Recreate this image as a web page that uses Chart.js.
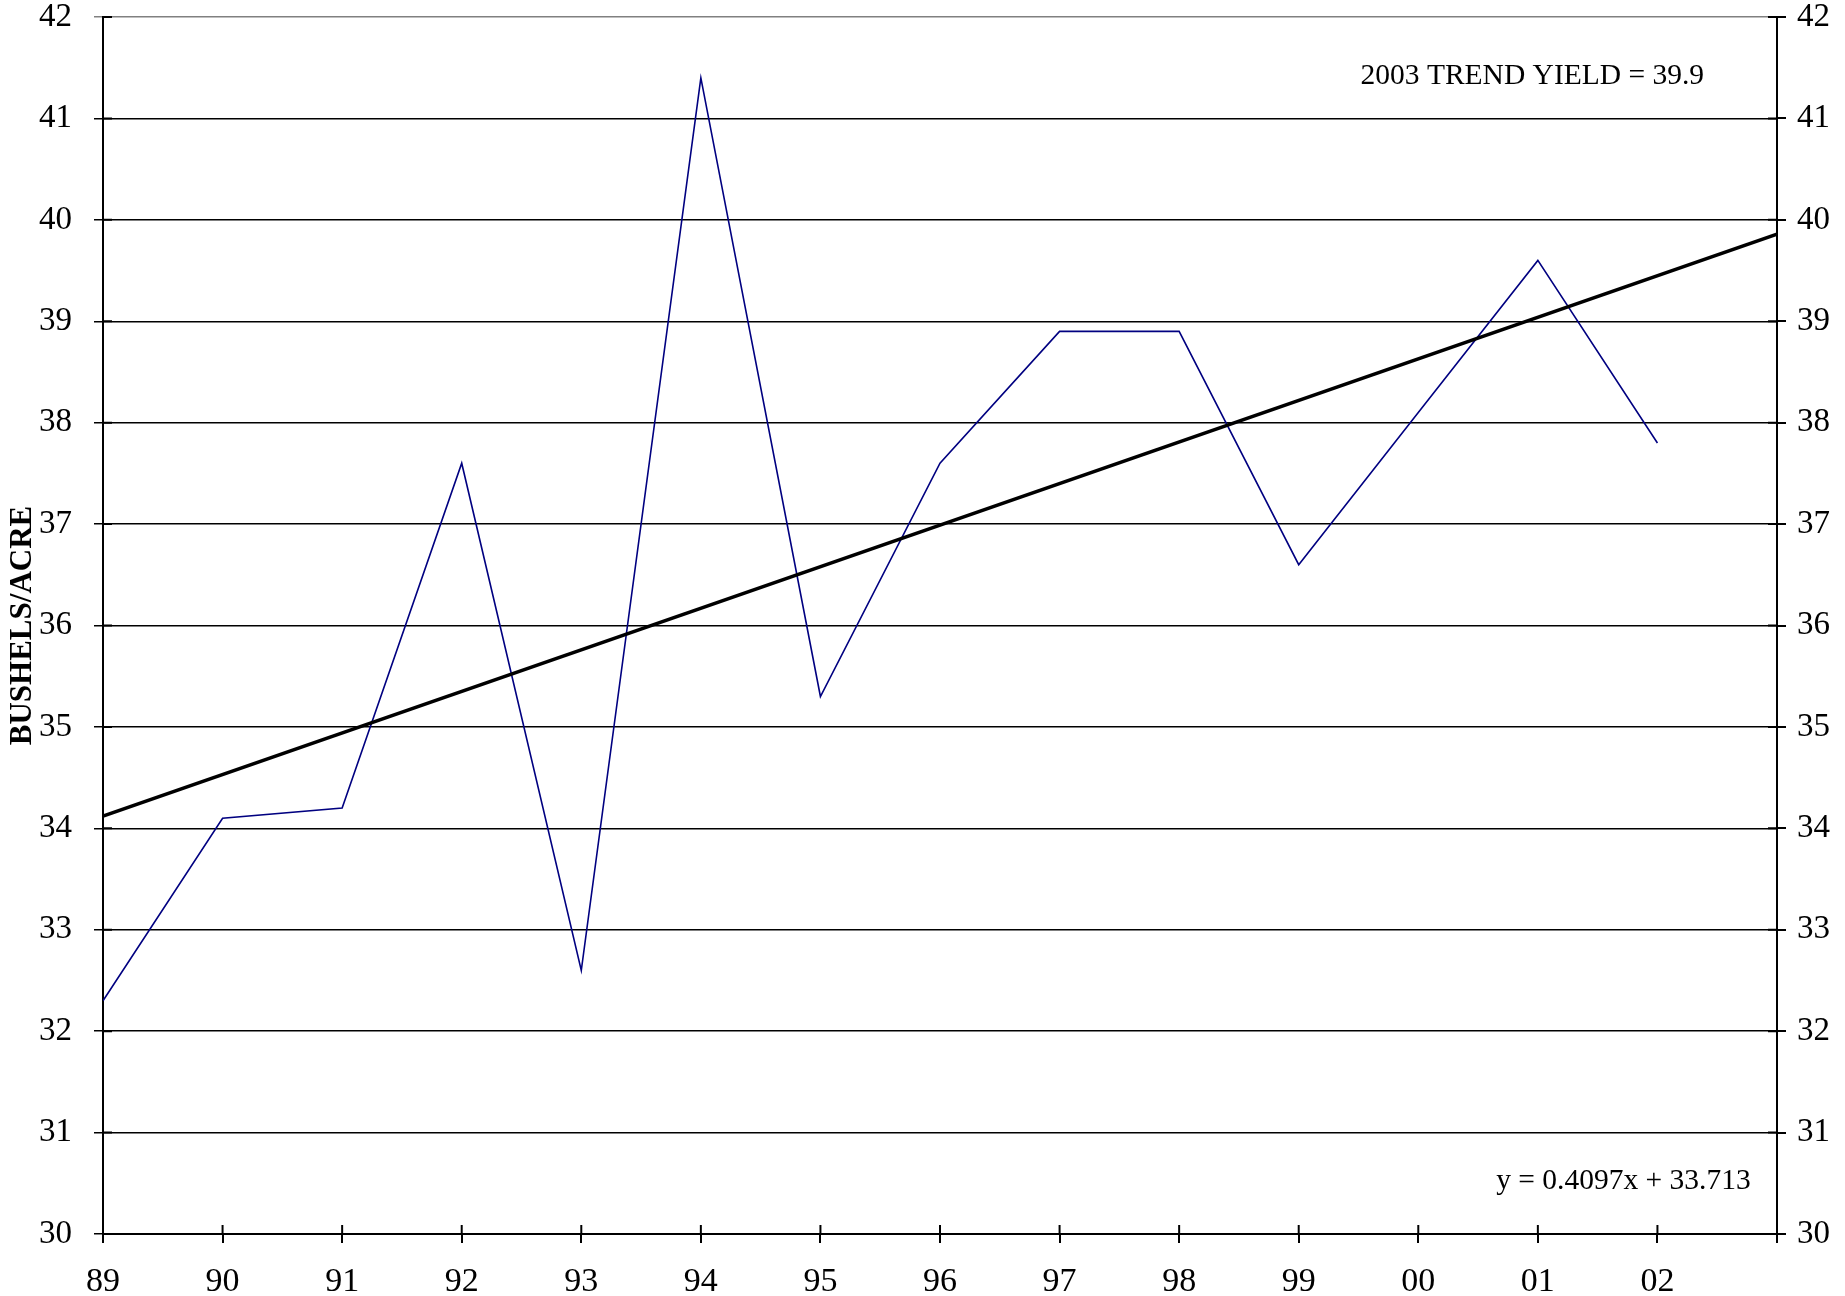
<!DOCTYPE html>
<html>
<head>
<meta charset="utf-8">
<script src="https://cdn.jsdelivr.net/npm/chart.js@4.4.1/dist/chart.umd.min.js"></script>
<style>
  html, body { margin: 0; padding: 0; background: #fff; }
</style>
</head>
<body>
<canvas id="yieldChart" width="1845" height="1296"></canvas>
<script>
// crop years, one per category slot on the x axis
const yearLabels = ["89", "90", "91", "92", "93", "94", "95", "96", "97", "98", "99", "00", "01", "02"];
// actual yield, bushels/acre
const yieldValues = [32.3, 34.1, 34.2, 37.6, 32.6, 41.4, 35.3, 37.6, 38.9, 38.9, 36.6, 38.1, 39.6, 37.8];
// trend line ends: at 89 and at 03 (right edge of the plot)
const trendYears = [0, 14];
const trendValues = [34.12, 39.86];
const yTicks = [30, 31, 32, 33, 34, 35, 36, 37, 38, 39, 40, 41, 42];
const notes = ["2003 TREND YIELD = 39.9", "y = 0.4097x + 33.713"];

const FONT = "'Liberation Serif', 'Times New Roman', serif";

// small tick marks that also reach inside the plot, like the original
const innerTicks = {
    id: "innerTicks",
    afterDraw(chart) {
        const c = chart.ctx;
        const x = chart.scales.x, y = chart.scales.y;
        const a = chart.chartArea;
        c.save();
        c.strokeStyle = "#000";
        c.lineWidth = 2;
        for (let i = 0; i <= 14; i++) {
            let px = x.getPixelForValue(i);
            c.beginPath();
            c.moveTo(px, a.bottom);
            c.lineTo(px, a.bottom - 9);
            c.stroke();
        }
        yTicks.forEach(v => {
            let py = y.getPixelForValue(v);
            c.beginPath();
            c.moveTo(a.left, py);
            c.lineTo(a.left + 9, py);
            c.moveTo(a.right, py);
            c.lineTo(a.right - 9, py);
            c.stroke();
        });

        // text notes
        c.fillStyle = "#000";
        c.font = "29.5px " + FONT;
        c.textAlign = "right";
        c.textBaseline = "middle";
        c.fillText(notes[0], x.getPixelForValue(13.39), y.getPixelForValue(41.42));
        c.fillText(notes[1], x.getPixelForValue(13.78), y.getPixelForValue(30.52));
        c.restore();
    }
};

const yieldPoints = yieldValues.map((v, i) => ({ x: i, y: v }));
const trendPoints = trendYears.map((v, i) => ({ x: v, y: trendValues[i] }));

const noPad = s => { s.paddingTop = 0; s.paddingBottom = 0; };

new Chart(document.getElementById("yieldChart"), {
    type: "line",
    data: {
        datasets: [
            {
                label: "Trend",
                data: trendPoints,
                borderColor: "#000",
                borderWidth: 3.5,
                pointRadius: 0,
                tension: 0
            },
            {
                label: "Yield",
                data: yieldPoints,
                borderColor: "#000080",
                borderWidth: 1.6,
                pointRadius: 0,
                tension: 0
            }
        ]
    },
    options: {
        responsive: false,
        animation: false,
        devicePixelRatio: 1,
        layout: { padding: { top: 17, left: 0, right: 0, bottom: 0 } },
        plugins: {
            legend: { display: false },
            tooltip: { enabled: false }
        },
        scales: {
            x: {
                type: "linear",
                min: 0,
                max: 14,
                afterFit: s => { s.height = 62; },
                ticks: {
                    stepSize: 1,
                    autoSkip: false,
                    maxRotation: 0,
                    color: "#000",
                    font: { family: FONT, size: 34 },
                    padding: 19,
                    callback: v => yearLabels[v] ?? ""
                },
                grid: { drawOnChartArea: false, color: "#000", lineWidth: 2, tickLength: 9 },
                border: { color: "#000", width: 2 }
            },
            y: {
                position: "left",
                min: 30,
                max: 42,
                afterFit: s => { s.width = 103; noPad(s); },
                ticks: {
                    stepSize: 1,
                    color: "#000",
                    font: { family: FONT, size: 33 },
                    padding: 22
                },
                title: {
                    display: true,
                    text: "BUSHELS/ACRE",
                    color: "#000",
                    font: { family: FONT, size: 31, weight: "bold" },
                    padding: { top: 4, bottom: 0 }
                },
                grid: {
                    color: ctx => ctx.tick && ctx.tick.value === 42 ? "#808080" : "#000",
                    lineWidth: 1.5,
                    tickLength: 9
                },
                border: { color: "#000", width: 2 }
            },
            y2: {
                position: "right",
                min: 30,
                max: 42,
                afterFit: s => { s.width = 68; noPad(s); },
                ticks: {
                    stepSize: 1,
                    color: "#000",
                    font: { family: FONT, size: 33 },
                    padding: 11
                },
                grid: { drawOnChartArea: false, color: "#000", lineWidth: 2, tickLength: 9 },
                border: { color: "#000", width: 2 }
            }
        }
    },
    plugins: [innerTicks]
});
</script>
</body>
</html>
